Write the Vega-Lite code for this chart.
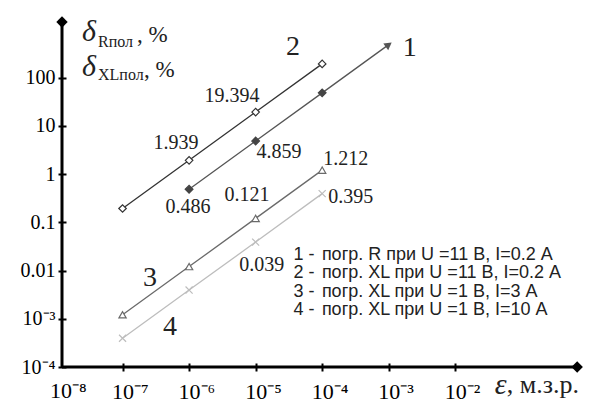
{
  "$schema": "https://vega.github.io/schema/vega-lite/v6.json",
  "width": 518,
  "height": 350,
  "autosize": {"type": "none"},
  "padding": {"left": 62, "top": 17, "right": 12, "bottom": 37},
  "background": "white",
  "config": {
    "view": {"stroke": null},
    "axisX": {"grid": false,
              "domain": false, "tickSize": 8, "offset": -4, "tickWidth": 2, "tickColor": "black",
              "labelFont": "Liberation Serif", "labelFontSize": 22, "labelColor": "black",
              "labelAlign": "left", "labelOffset": -11, "labelPadding": 10, "labelBaseline": "top",
              "labelOverlap": false, "labelFlush": false},
    "axisY": {"grid": false,
              "domain": false, "tickSize": 8, "offset": -4, "tickWidth": 2, "tickColor": "black",
              "labelFont": "Liberation Serif", "labelFontSize": 20, "labelColor": "black",
              "labelAlign": "right", "labelBaseline": "middle", "labelPadding": 3,
              "labelOverlap": false, "labelFlush": false}
  },
  "datasets": {
    "series": [
      {"s": "1", "x": 1e-6, "y": 0.486},
      {"s": "1", "x": 1e-5, "y": 4.859},
      {"s": "1", "x": 1e-4, "y": 48.59},
      {"s": "1", "x": 1e-3, "y": 485.9},
      {"s": "2", "x": 1e-7, "y": 0.194},
      {"s": "2", "x": 1e-6, "y": 1.939},
      {"s": "2", "x": 1e-5, "y": 19.394},
      {"s": "2", "x": 1e-4, "y": 193.94},
      {"s": "3", "x": 1e-7, "y": 0.00121},
      {"s": "3", "x": 1e-6, "y": 0.0121},
      {"s": "3", "x": 1e-5, "y": 0.121},
      {"s": "3", "x": 1e-4, "y": 1.212},
      {"s": "4", "x": 1e-7, "y": 0.000395},
      {"s": "4", "x": 1e-6, "y": 0.00395},
      {"s": "4", "x": 1e-5, "y": 0.039},
      {"s": "4", "x": 1e-4, "y": 0.395}
    ],
    "frame": [
      {"k": "xaxis", "x": 1.23e-8, "x2": 0.7, "y": 0.0001, "y2": 0.0001},
      {"k": "yaxis", "x": 1.23e-8, "x2": 1.23e-8, "y": 0.0001, "y2": 1500}
    ],
    "arrows": [
      {"k": "xaxis", "x": 0.68, "y": 0.0001},
      {"k": "yaxis", "x": 1.23e-8, "y": 1432}
    ],
    "notes": [
      {"g": "tick", "t": "10⁻⁸", "x": 8.13e-9, "y": 5.13e-5},
      {"g": "val", "t": "1.939", "x": 6.35e-7, "y": 4.43},
      {"g": "val", "t": "19.394", "x": 4.41e-6, "y": 41.8},
      {"g": "val", "t": "0.486", "x": 9.6e-7, "y": 0.208},
      {"g": "val", "t": "4.859", "x": 2.24e-5, "y": 2.88},
      {"g": "val", "t": "0.121", "x": 7.4e-6, "y": 0.37},
      {"g": "val", "t": "1.212", "x": 2.27e-4, "y": 2.06},
      {"g": "val", "t": "0.395", "x": 2.7e-4, "y": 0.336},
      {"g": "val", "t": "0.039", "x": 1.24e-5, "y": 0.0131},
      {"g": "num", "t": "2", "x": 3.63e-5, "y": 434},
      {"g": "num", "t": "1", "x": 2.08e-3, "y": 414},
      {"g": "num", "t": "3", "x": 2.58e-7, "y": 0.00702},
      {"g": "num", "t": "4", "x": 5.15e-7, "y": 0.000676},
      {"g": "legn", "t": "1 -", "x": 3.7e-5, "y": 0.02104},
      {"g": "legn", "t": "2 -", "x": 3.7e-5, "y": 0.00891},
      {"g": "legn", "t": "3 -", "x": 3.7e-5, "y": 0.0036},
      {"g": "legn", "t": "4 -", "x": 3.7e-5, "y": 0.00152},
      {"g": "legd", "t": "погр. R при U =11 В, I=0.2 А", "x": 9.9e-5, "y": 0.02104},
      {"g": "legd", "t": "погр. XL при U =11 В, I=0.2 А", "x": 9.9e-5, "y": 0.00891},
      {"g": "legd", "t": "погр. XL при U =1 В, I=3 А", "x": 9.9e-5, "y": 0.0036},
      {"g": "legd", "t": "погр. XL при U =1 В, I=10 А", "x": 9.9e-5, "y": 0.00152},
      {"g": "delta", "t": "δ", "x": 2.45e-8, "y": 889},
      {"g": "delta", "t": "δ", "x": 2.45e-8, "y": 167},
      {"g": "sub", "t": "Rпол", "x": 4.28e-8, "y": 551},
      {"g": "sub", "t": "XLпол", "x": 4.28e-8, "y": 114},
      {"g": "pct", "t": ", %", "x": 1.65e-7, "y": 771},
      {"g": "pct", "t": ", %", "x": 2.1e-7, "y": 145},
      {"g": "eps", "t": "ε", "x": 0.0393, "y": 4.24e-5},
      {"g": "unit", "t": ", м.з.р.", "x": 0.0596, "y": 4.24e-5}
    ]
  },
  "layer": [
    {
      "data": {"name": "series"},
      "mark": {"type": "line", "strokeWidth": 1.3},
      "encoding": {
        "x": {"field": "x", "type": "quantitative", "title": null,
              "scale": {"type": "log", "domain": [1.23e-8, 0.75], "nice": false},
              "axis": {"values": [1e-7, 1e-6, 1e-5, 1e-4, 1e-3, 1e-2],
                       "labelExpr": "'10⁻' + ['⁰','¹','²','³','⁴','⁵','⁶','⁷','⁸','⁹'][round(-log(datum.value)/LN10)]"}},
        "y": {"field": "y", "type": "quantitative", "title": null,
              "scale": {"type": "log", "domain": [1e-4, 1820], "nice": false},
              "axis": {"values": [1e-4, 1e-3, 0.01, 0.1, 1, 10, 100],
                       "labelExpr": "datum.value >= 1 ? format(datum.value, 'd') : datum.value >= 0.01 ? format(datum.value, '.2~f') : '10⁻' + ['⁰','¹','²','³','⁴','⁵','⁶','⁷','⁸','⁹'][round(-log(datum.value)/LN10)]"}},
        "color": {"field": "s", "type": "nominal", "legend": null,
                  "scale": {"domain": ["1", "2", "3", "4"], "range": ["#555555", "#333333", "#6a6a6a", "#bdbdbd"]}}
      }
    },
    {
      "data": {"name": "series"},
      "transform": [{"filter": "!(datum.s == '1' && datum.x > 0.0005)"}],
      "mark": {"type": "point", "strokeWidth": 1.2, "opacity": 1, "fillOpacity": 1},
      "encoding": {
        "x": {"field": "x", "type": "quantitative", "title": null, "scale": {"type": "log", "domain": [1.23e-8, 0.75], "nice": false}},
        "y": {"field": "y", "type": "quantitative", "title": null, "scale": {"type": "log", "domain": [1e-4, 1820], "nice": false}},
        "shape": {"field": "s", "type": "nominal", "legend": null,
                  "scale": {"domain": ["1", "2", "3", "4"], "range": ["diamond", "diamond", "triangle-up", "M-1,-1L1,1M-1,1L1,-1"]}},
        "stroke": {"field": "s", "type": "nominal", "legend": null,
                   "scale": {"domain": ["1", "2", "3", "4"], "range": ["#444444", "#333333", "#6a6a6a", "#bdbdbd"]}},
        "fill": {"field": "s", "type": "nominal", "legend": null,
                 "scale": {"domain": ["1", "2", "3", "4"], "range": ["#444444", "#ffffff", "#ffffff", "transparent"]}},
        "size": {"field": "s", "type": "nominal", "legend": null,
                 "scale": {"domain": ["1", "2", "3", "4"], "range": [60, 50, 80, 70]}}
      }
    },
    {
      "data": {"name": "series"},
      "transform": [{"filter": "datum.s == '1' && datum.x > 0.0005"}],
      "mark": {"type": "point", "shape": "triangle-right", "angle": 324, "filled": true, "color": "#555555", "size": 70, "opacity": 1},
      "encoding": {
        "x": {"field": "x", "type": "quantitative", "title": null, "scale": {"type": "log", "domain": [1.23e-8, 0.75], "nice": false}},
        "y": {"field": "y", "type": "quantitative", "title": null, "scale": {"type": "log", "domain": [1e-4, 1820], "nice": false}}
      }
    },
    {
      "data": {"name": "frame"},
      "mark": {"type": "rule", "strokeWidth": 3, "color": "black"},
      "encoding": {
        "x": {"field": "x", "type": "quantitative", "title": null, "scale": {"type": "log", "domain": [1.23e-8, 0.75], "nice": false}},
        "x2": {"field": "x2"},
        "y": {"field": "y", "type": "quantitative", "title": null, "scale": {"type": "log", "domain": [1e-4, 1820], "nice": false}},
        "y2": {"field": "y2"}
      }
    },
    {
      "data": {"name": "arrows"},
      "mark": {"type": "point", "filled": true, "color": "black", "size": 130, "opacity": 1},
      "encoding": {
        "x": {"field": "x", "type": "quantitative", "title": null, "scale": {"type": "log", "domain": [1.23e-8, 0.75], "nice": false}},
        "y": {"field": "y", "type": "quantitative", "title": null, "scale": {"type": "log", "domain": [1e-4, 1820], "nice": false}},
        "shape": {"field": "k", "type": "nominal", "legend": null,
                  "scale": {"domain": ["xaxis", "yaxis"], "range": ["triangle-right", "triangle-up"]}}
      }
    },
    {
      "data": {"name": "notes"},
      "transform": [{"filter": "datum.g == 'tick'"}],
      "mark": {"type": "text", "font": "Liberation Serif", "fontSize": 22, "color": "black", "align": "left", "baseline": "top"},
      "encoding": {
        "x": {"field": "x", "type": "quantitative", "title": null, "scale": {"type": "log", "domain": [1.23e-8, 0.75], "nice": false}},
        "y": {"field": "y", "type": "quantitative", "title": null, "scale": {"type": "log", "domain": [1e-4, 1820], "nice": false}},
        "text": {"field": "t"}
      }
    },
    {
      "data": {"name": "notes"},
      "transform": [{"filter": "datum.g == 'val'"}],
      "mark": {"type": "text", "font": "Liberation Serif", "fontSize": 20, "color": "#222222", "align": "center", "baseline": "middle"},
      "encoding": {
        "x": {"field": "x", "type": "quantitative", "title": null, "scale": {"type": "log", "domain": [1.23e-8, 0.75], "nice": false}},
        "y": {"field": "y", "type": "quantitative", "title": null, "scale": {"type": "log", "domain": [1e-4, 1820], "nice": false}},
        "text": {"field": "t"}
      }
    },
    {
      "data": {"name": "notes"},
      "transform": [{"filter": "datum.g == 'num'"}],
      "mark": {"type": "text", "font": "Liberation Serif", "fontSize": 28, "color": "#222222", "align": "center", "baseline": "middle"},
      "encoding": {
        "x": {"field": "x", "type": "quantitative", "title": null, "scale": {"type": "log", "domain": [1.23e-8, 0.75], "nice": false}},
        "y": {"field": "y", "type": "quantitative", "title": null, "scale": {"type": "log", "domain": [1e-4, 1820], "nice": false}},
        "text": {"field": "t"}
      }
    },
    {
      "data": {"name": "notes"},
      "transform": [{"filter": "datum.g == 'legn' || datum.g == 'legd'"}],
      "mark": {"type": "text", "font": "Liberation Sans", "fontSize": 18, "color": "#222222", "align": "left", "baseline": "middle"},
      "encoding": {
        "x": {"field": "x", "type": "quantitative", "title": null, "scale": {"type": "log", "domain": [1.23e-8, 0.75], "nice": false}},
        "y": {"field": "y", "type": "quantitative", "title": null, "scale": {"type": "log", "domain": [1e-4, 1820], "nice": false}},
        "text": {"field": "t"}
      }
    },
    {
      "data": {"name": "notes"},
      "transform": [{"filter": "datum.g == 'delta' || datum.g == 'eps'"}],
      "mark": {"type": "text", "font": "Liberation Serif", "fontSize": 30, "fontStyle": "italic", "color": "#222222", "align": "left", "baseline": "middle"},
      "encoding": {
        "x": {"field": "x", "type": "quantitative", "title": null, "scale": {"type": "log", "domain": [1.23e-8, 0.75], "nice": false}},
        "y": {"field": "y", "type": "quantitative", "title": null, "scale": {"type": "log", "domain": [1e-4, 1820], "nice": false}},
        "text": {"field": "t"}
      }
    },
    {
      "data": {"name": "notes"},
      "transform": [{"filter": "datum.g == 'sub'"}],
      "mark": {"type": "text", "font": "Liberation Serif", "fontSize": 16, "color": "#222222", "align": "left", "baseline": "middle"},
      "encoding": {
        "x": {"field": "x", "type": "quantitative", "title": null, "scale": {"type": "log", "domain": [1.23e-8, 0.75], "nice": false}},
        "y": {"field": "y", "type": "quantitative", "title": null, "scale": {"type": "log", "domain": [1e-4, 1820], "nice": false}},
        "text": {"field": "t"}
      }
    },
    {
      "data": {"name": "notes"},
      "transform": [{"filter": "datum.g == 'pct'"}],
      "mark": {"type": "text", "font": "Liberation Serif", "fontSize": 23, "color": "#222222", "align": "left", "baseline": "middle"},
      "encoding": {
        "x": {"field": "x", "type": "quantitative", "title": null, "scale": {"type": "log", "domain": [1.23e-8, 0.75], "nice": false}},
        "y": {"field": "y", "type": "quantitative", "title": null, "scale": {"type": "log", "domain": [1e-4, 1820], "nice": false}},
        "text": {"field": "t"}
      }
    },
    {
      "data": {"name": "notes"},
      "transform": [{"filter": "datum.g == 'unit'"}],
      "mark": {"type": "text", "font": "Liberation Serif", "fontSize": 26, "color": "#222222", "align": "left", "baseline": "middle"},
      "encoding": {
        "x": {"field": "x", "type": "quantitative", "title": null, "scale": {"type": "log", "domain": [1.23e-8, 0.75], "nice": false}},
        "y": {"field": "y", "type": "quantitative", "title": null, "scale": {"type": "log", "domain": [1e-4, 1820], "nice": false}},
        "text": {"field": "t"}
      }
    }
  ]
}
